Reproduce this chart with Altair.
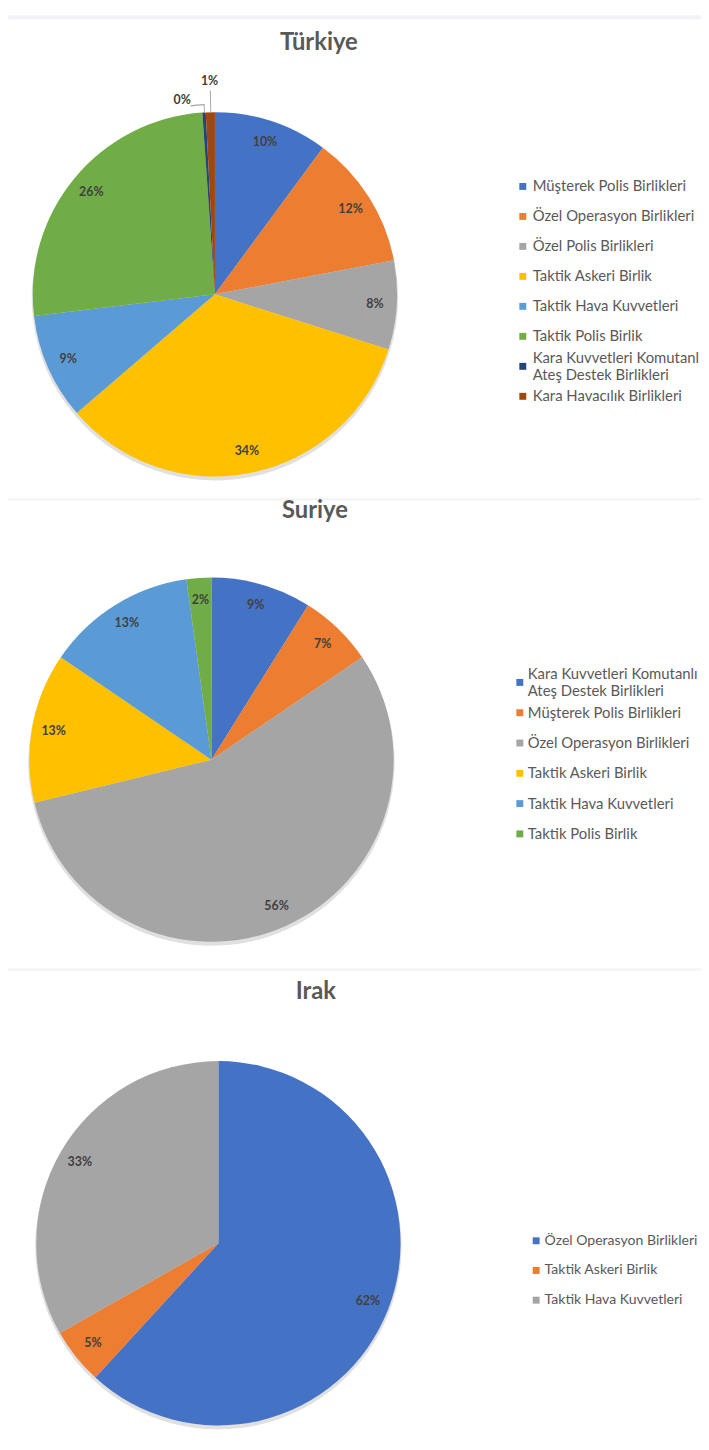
import math
import altair as alt
import pandas as pd

# ---------------- data ----------------
tr_cats = ["Müşterek Polis Birlikleri", "Özel Operasyon Birlikleri", "Özel Polis Birlikleri",
           "Taktik Askeri Birlik", "Taktik Hava Kuvvetleri", "Taktik Polis Birlik",
           "Kara Kuvvetleri Komutanlığı|Ateş Destek Birlikleri", "Kara Havacılık Birlikleri"]
tr_vals = [10.1, 11.9, 7.9, 33.8, 9.4, 25.8, 0.3, 0.8]

sy_cats = ["Kara Kuvvetleri Komutanlığı|Ateş Destek Birlikleri", "Müşterek Polis Birlikleri",
           "Özel Operasyon Birlikleri", "Taktik Askeri Birlik", "Taktik Hava Kuvvetleri",
           "Taktik Polis Birlik"]
sy_vals = [8.9, 6.6, 55.7, 13.3, 13.3, 2.2]

iq_cats = ["Özel Operasyon Birlikleri", "Taktik Askeri Birlik", "Taktik Hava Kuvvetleri"]
iq_vals = [61.8, 5.0, 33.2]

titles = ["Türkiye", "Suriye", "Irak"]

OFFICE = ["#4472C4", "#ED7D31", "#A5A5A5", "#FFC000", "#5B9BD5", "#70AD47", "#264478", "#9E480E"]
FONT = "Lato"
W, H = 700, 1434
GRAY = "#f2f3f7"
LH = 17


def pie(title, cats, vals, cx, cy, r, title_xy, leg, outer=()):
    df = pd.DataFrame({"cat": cats, "val": vals, "idx": list(range(len(cats)))})
    total = sum(vals)
    tscale = alt.Scale(domain=[0, total], range=[0, 2 * math.pi])
    cscale = alt.Scale(domain=cats, range=OFFICE[:len(cats)])
    base = (
        alt.Chart(df)
        .transform_window(cum="sum(val)", sort=[alt.SortField("idx")], frame=[None, 0])
        .transform_joinaggregate(tot="sum(val)")
        .transform_calculate(start="datum.cum - datum.val",
                             mid="datum.cum - datum.val / 2",
                             pct="datum.val / datum.tot")
    )
    shadow = base.mark_arc(radius=r + 1, x=cx, y=cy + 3, color="#000000", opacity=0.12).encode(
        theta=alt.Theta("start:Q", scale=tscale), theta2="cum:Q")
    arcs = base.mark_arc(radius=r, x=cx, y=cy).encode(
        theta=alt.Theta("start:Q", scale=tscale),
        theta2="cum:Q",
        color=alt.Color("cat:N", scale=cscale, legend=None),
    )
    outer_idx = [o["idx"] for o in outer]
    labels = base.transform_filter(f"indexof({outer_idx}, datum.idx) < 0").mark_text(
        radius=162, x=cx, y=cy, font=FONT, fontWeight="bold", fontSize=12.5, color="#404040"
    ).encode(theta=alt.Theta("mid:Q", scale=tscale), text=alt.Text("pct:Q", format=".0%"))
    layers = [shadow, arcs, labels]
    for o in outer:
        sub = base.transform_filter(f"datum.idx == {o['idx']}").transform_calculate(
            lt=f"datum.mid + {o['shift']}", m2=f"datum.mid + {total * 0.0008}",
            e1=f"datum.mid + {o.get('elbow', 0)}")
        layers.append(sub.mark_arc(radius=o["line"][1], radius2=o["line"][0], x=cx, y=cy,
                                   color="#a6a6a6").encode(
            theta=alt.Theta("mid:Q", scale=tscale), theta2="m2:Q"))
        if o.get("elbow"):
            layers.append(sub.mark_arc(radius=o["line"][1] + 0.6, radius2=o["line"][1] - 0.6,
                                       x=cx, y=cy, color="#a6a6a6").encode(
                theta=alt.Theta("e1:Q", scale=tscale), theta2="m2:Q"))
        layers.append(sub.mark_text(radius=o["r"], x=cx, y=cy, font=FONT, fontWeight="bold",
                                    fontSize=12.5, color="#404040").encode(
            theta=alt.Theta("lt:Q", scale=tscale), text=alt.Text("pct:Q", format=".0%")))

    # legend (square + label), rows placed by a point scale
    yleg = alt.Y("cat:N", sort=cats, axis=None,
                 scale=alt.Scale(range=[leg["y0"], leg["y1"]], padding=0))
    sq = alt.Chart(df).mark_square(size=49, opacity=1).encode(
        x=alt.value(leg["sx"]), y=yleg, color=alt.Color("cat:N", scale=cscale, legend=None))
    layers.append(sq)
    txt_style = dict(align="left", baseline="middle", lineBreak="|", lineHeight=LH, font=FONT,
                     fontSize=leg.get("fs", 15), color="#595959", limit=W - leg["tx"],
                     ellipsis="\u200b")
    single = alt.Chart(df).transform_filter("indexof(datum.cat, '|') < 0").mark_text(
        **txt_style).encode(x=alt.value(leg["tx"]), y=yleg, text="cat:N")
    multi = alt.Chart(df).transform_filter("indexof(datum.cat, '|') >= 0").mark_text(
        dy=-LH / 2, **txt_style).encode(x=alt.value(leg["tx"]), y=yleg, text="cat:N")
    layers += [single, multi]

    ttl = alt.Chart(pd.DataFrame({"t": [title]})).mark_text(
        font=FONT, fontWeight="bold", fontSize=24, color="#595959"
    ).encode(text="t:N", x=alt.value(title_xy[0]), y=alt.value(title_xy[1]))
    layers.append(ttl)
    return alt.layer(*layers)


one = pd.DataFrame({"k": [0]})


def band(y0, y1):
    return alt.Chart(one).mark_rect(color=GRAY).encode(
        x=alt.value(0), x2=alt.value(W), y=alt.value(y0), y2=alt.value(y1))


p1 = pie(titles[0], tr_cats, tr_vals, 209, 282, 184, (314, 28),
         {"sx": 520, "tx": 530, "y0": 173, "y1": 385},
         outer=[{"idx": 6, "r": 199, "shift": -1.7, "line": (184, 192), "elbow": -1.1},
                {"idx": 7, "r": 216, "shift": 0, "line": (184, 206)}])
p2 = pie(titles[1], sy_cats, sy_vals, 205.5, 752, 184, (310, 501),
         {"sx": 517, "tx": 525, "y0": 674, "y1": 827})
p3 = pie(titles[2], iq_cats, iq_vals, 212.5, 1240.5, 184, (311, 987),
         {"sx": 533.5, "tx": 542, "y0": 1238, "y1": 1298, "fs": 14.2})

chart = (
    alt.layer(band(0, 4), band(488, 490), band(963, 965), p1, p2, p3)
    .resolve_scale(color="independent", theta="independent", y="independent")
    .properties(width=W, height=H, padding=0)
    .configure(background="white")
    .configure_view(fill="white", stroke=None)
)

chart.save("out.html", embed_options={"renderer": "svg", "actions": False})
